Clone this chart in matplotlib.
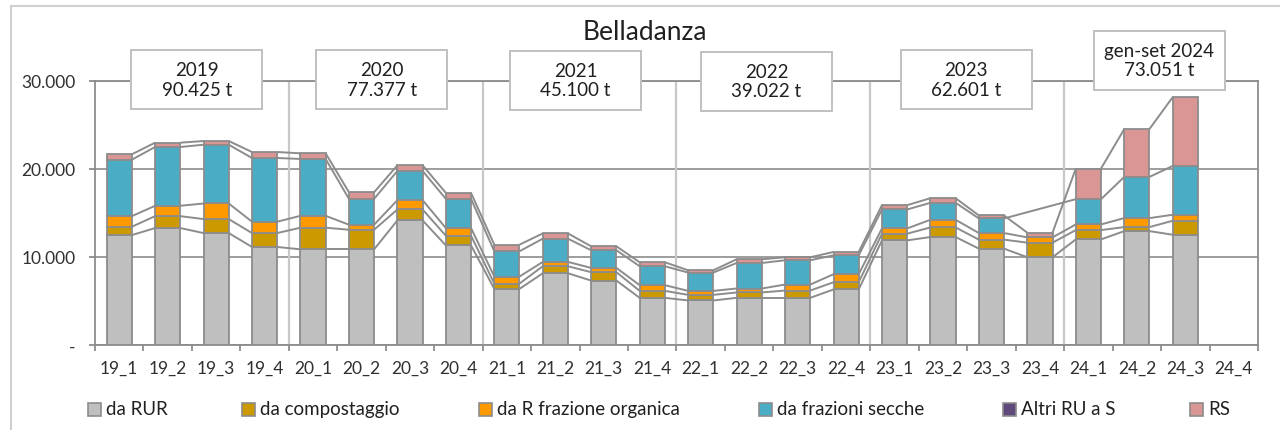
import numpy as np
import matplotlib

matplotlib.use("Agg")
import matplotlib.pyplot as plt
from matplotlib.patches import Rectangle
from matplotlib.lines import Line2D

# data (tonnes per quarter)
categories = ["19_1", "19_2", "19_3", "19_4", "20_1", "20_2", "20_3", "20_4",
              "21_1", "21_2", "21_3", "21_4", "22_1", "22_2", "22_3", "22_4",
              "23_1", "23_2", "23_3", "23_4", "24_1", "24_2", "24_3", "24_4"]
da_rur = [12490, 13290, 12720, 11140, 10870, 10870, 14160, 11320,
          6380, 8150, 7320, 5360, 5060, 5360, 5360, 6310,
          11890, 12270, 10950, 9970, 12000, 12940, 12530, np.nan]
da_compostaggio = [950, 1350, 1590, 1580, 2460, 2230, 1240, 1100,
                   600, 800, 950, 790, 640, 610, 830, 820,
                   760, 1090, 1020, 1660, 1060, 460, 1590, np.nan]
da_r_organica = [1200, 1180, 1770, 1290, 1350, 570, 1060, 870,
                 800, 490, 490, 650, 450, 450, 680, 910,
                 600, 870, 750, 600, 640, 1020, 680, np.nan]
da_frazioni_secche = [6420, 6680, 6680, 7240, 6460, 2940, 3320, 3320,
                      2870, 2640, 2000, 2150, 2080, 2900, 2760, 2150,
                      2150, 1930, 1660, np.nan, 2870, 4680, 5550, np.nan]
altri_ru_a_s = [0, 0, 0, 0, 0, 0, 0, 0, 0, 0, 0, 0,
                0, 0, 0, 0, 0, 0, 0, np.nan, 0, 0, 0, np.nan]
rs = [610, 490, 420, 680, 640, 750, 640, 680,
      750, 600, 450, 450, 260, 420, 340, 380,
      490, 520, 340, 530, 3480, 5440, 7820, np.nan]

series_names = ["da RUR", "da compostaggio", "da R frazione organica",
                "da frazioni secche", "Altri RU a S", "RS"]
series_colors = ["#bfbfbf", "#cc9900", "#ff9900", "#4bacc6", "#604a7b", "#d99694"]

year_labels = ["2019\n90.425 t", "2020\n77.377 t", "2021\n45.100 t",
               "2022\n39.022 t", "2023\n62.601 t", "gen-set 2024\n73.051 t"]
y_ticks = [0, 10000, 20000, 30000]
y_tick_labels = ["-", "10.000", "20.000", "30.000"]

plt.rcParams["font.family"] = ["Lato", "DejaVu Sans"]
W, H = 1280, 431
fig = plt.figure(figsize=(W / 100, H / 100), dpi=100)
ax = fig.add_axes([95 / W, (H - 346) / H, (1258 - 95) / W, (346 - 82) / H])

grid_c = "#8c8c8c"
edge_c = "#8c8c8c"
x = np.arange(len(categories))
bw = 0.52

all_series = [da_rur, da_compostaggio, da_r_organica, da_frazioni_secche, altri_ru_a_s, rs]
bottom = np.zeros(len(categories))
tops = []
for vals, name, col in zip(all_series, series_names, series_colors):
    v = np.array(vals, dtype=float)
    h = np.nan_to_num(v)
    mask = ~np.isnan(v) & (h > 0)
    ax.bar(x[mask], h[mask], bw, bottom=bottom[mask], color=col,
           edgecolor=edge_c, linewidth=1.3, zorder=3)
    top = bottom + h
    tops.append((v, top.copy()))
    bottom = top

# series lines between adjacent bars (skip blanks)
for v, top in tops:
    if np.nansum(v) == 0:
        continue
    idx = [i for i in range(len(v)) if not np.isnan(v[i])]
    for a, b in zip(idx[:-1], idx[1:]):
        ax.plot([x[a] + bw / 2, x[b] - bw / 2], [top[a], top[b]],
                color=grid_c, lw=1.4, zorder=2.5, solid_capstyle="butt")

ax.set_xlim(-0.5, len(categories) - 0.5)
ax.set_ylim(0, 30000)
ax.set_yticks(y_ticks)
ax.set_yticklabels(y_tick_labels)
ax.set_xticks(x)
ax.set_xticklabels(categories)
ax.set_xticks(np.arange(-0.5, len(categories), 1), minor=True)
ax.tick_params(axis="x", which="major", length=0, pad=11, labelsize=12.5, colors="#303030")
ax.tick_params(axis="x", which="minor", length=4, width=1.3, color=grid_c)
ax.tick_params(axis="y", length=4, width=1.3, color=grid_c, pad=10, labelsize=12.5, labelcolor="#303030")
ax.yaxis.grid(True, color=grid_c, lw=1.2, zorder=0)
ax.set_axisbelow(True)
for s in ax.spines.values():
    s.set_color(grid_c)
    s.set_linewidth(1.3)

# light vertical lines between years
for k in range(1, 6):
    ax.axvline(-0.5 + 4 * k, color="#c8c8c8", lw=1.6, zorder=1)

fig.text(645 / W, (H - 32) / H, "Belladanza", ha="center", va="center",
         fontsize=19, color="#202020")

# year boxes
box_dx = [5, -4, -4, -7, -1, -2]
box_cy = [80.5, 80.5, 81, 82, 80.5, 61]
for k, lab in enumerate(year_labels):
    cx = ax.transData.transform((1.5 + 4 * k, 0))[0] + box_dx[k]
    cy = H - box_cy[k]
    fig.patches.append(Rectangle(((cx - 65.5) / W, (cy - 29.5) / H), 131 / W, 59 / H,
                                 transform=fig.transFigure, facecolor="white",
                                 edgecolor="#c0c0c0", lw=1.4, zorder=5))
    fig.text(cx / W, cy / H, lab, ha="center", va="center", fontsize=13.5,
             color="#202020", linespacing=1.2, zorder=6)

# legend, placed by hand like the spreadsheet
leg_x = [88, 242, 479, 759, 1003, 1190]
for name, col, lx in zip(series_names, series_colors, leg_x):
    fig.patches.append(Rectangle((lx / W, (H - 416.5) / H), 13 / W, 13 / H,
                                 transform=fig.transFigure, facecolor=col,
                                 edgecolor=edge_c, lw=1.2))
    fig.text((lx + 18) / W, (H - 410) / H, name, ha="left", va="center",
             fontsize=13.5, color="#202020")

# chart-area border
fig.lines.append(Line2D([11 / W, 11 / W], [0, (H - 7) / H], transform=fig.transFigure,
                        color="#d0d0d0", lw=1.5))
fig.lines.append(Line2D([11 / W, 1], [(H - 7) / H, (H - 7) / H], transform=fig.transFigure,
                        color="#d0d0d0", lw=1.5))

fig.savefig("out.png", dpi=100, facecolor="white")
